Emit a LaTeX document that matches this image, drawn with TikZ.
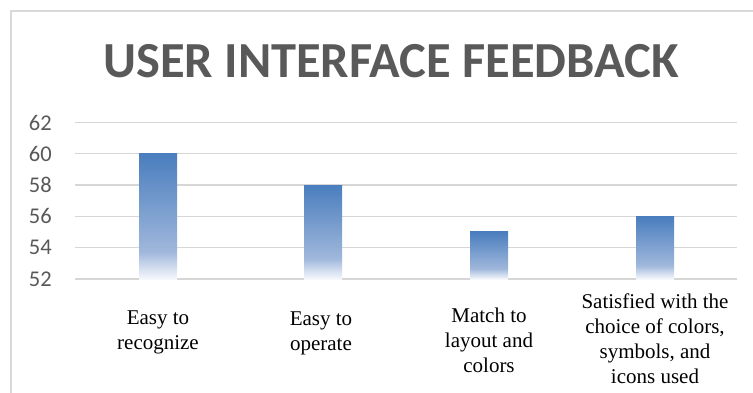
\documentclass[tikz,border=0pt]{standalone}
\usepackage{fontspec}
\setmainfont{Liberation Serif}
\newfontfamily\serifcat{Liberation Serif}
\newfontfamily\carlito{Carlito}
\definecolor{framegray}{HTML}{D9D9D9}
\definecolor{gridgray}{HTML}{D6D6D6}
\definecolor{titlegray}{HTML}{595959}
\definecolor{ticktext}{HTML}{595959}
\definecolor{bartop}{HTML}{4A7EBE}
\definecolor{barmid}{HTML}{9FB7DB}
\definecolor{barbot}{HTML}{F6F8FC}
\pgfdeclareverticalshading{barshade}{100bp}{color(0bp)=(barbot); color(25bp)=(barbot); color(36bp)=(barmid); color(75bp)=(bartop); color(100bp)=(bartop)}
\tikzset{
  gridline/.style={draw=gridgray, line width=1.4pt},
  framel/.style={draw=framegray, line width=2pt},
  tick/.style={font={\carlito\fontsize{22.5}{26}\selectfont}, text=ticktext, anchor=east, inner sep=0pt},
  catlabel/.style={font={\serifcat\fontsize{21}{25}\selectfont}, align=center, anchor=north, inner sep=0pt},
  barrect/.style={shading=barshade},
}
\begin{document}
\begin{tikzpicture}[x=1pt, y=-1pt]
\useasboundingbox (0,0) rectangle (753,393);
% frame
\draw[framel] (11,393) -- (11,11) -- (753,11);
% title
\node[font={\carlito\bfseries\fontsize{50.5}{60}\selectfont}, text=titlegray, anchor=base, inner sep=0pt] (title) at (391,78) {USER INTERFACE FEEDBACK};
% gridlines and ticks
\foreach \v/\yy in {62/122.5, 60/153.8, 58/185.1, 56/216.4, 54/247.7, 52/279} {
  \draw[gridline] (75,\yy) -- (737,\yy);
  \node[tick] (t\v) at (52,\yy) {\v};
}
% bars
\shade[barrect] (139,279) rectangle (177,153.8);
\shade[barrect] (304,279) rectangle (342,185.1);
\shade[barrect] (470,279) rectangle (508,232.0);
\shade[barrect] (636,279) rectangle (674,216.4);
% category labels
\node[catlabel] (c1) at (158,311) {Easy to\\recognize};
\node[catlabel] (c2) at (321,312) {Easy to\\operate};
\node[catlabel] (c3) at (489,308) {Match to\\layout and\\colors};
\node[catlabel] (c4) at (655,294) {Satisfied with the\\choice of colors,\\symbols, and\\icons used};
\end{tikzpicture}
\end{document}
